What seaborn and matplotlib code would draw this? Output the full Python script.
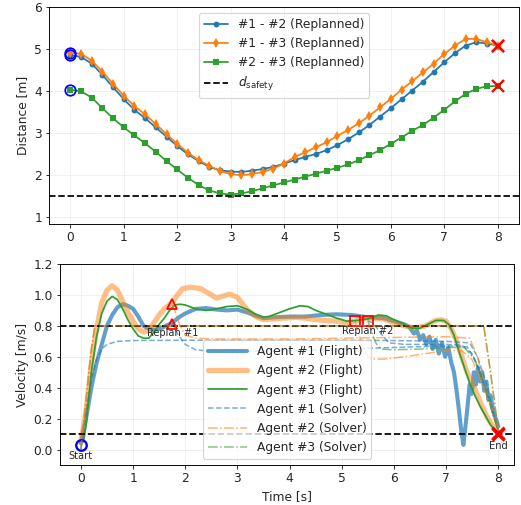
import matplotlib
matplotlib.use("Agg")
import matplotlib.pyplot as plt
import seaborn as sns
import numpy as np

# ---------------- data: top panel (pairwise distances) ----------------
t_dist = [0.0, 0.2, 0.4, 0.6, 0.8, 1.0, 1.2, 1.4, 1.6, 1.8, 2.0, 2.2, 2.4, 2.6, 2.8,
          3.0, 3.2, 3.4, 3.6, 3.8, 4.0, 4.2, 4.4, 4.6, 4.8, 5.0, 5.2, 5.4, 5.6, 5.8,
          6.0, 6.2, 6.4, 6.6, 6.8, 7.0, 7.2, 7.4, 7.6, 7.8, 8.0]
d12 = [4.86, 4.81, 4.65, 4.38, 4.09, 3.80, 3.55, 3.35, 3.13, 2.91, 2.69, 2.49, 2.33,
       2.19, 2.11, 2.08, 2.07, 2.10, 2.14, 2.19, 2.27, 2.35, 2.43, 2.50, 2.59, 2.71,
       2.85, 3.01, 3.19, 3.39, 3.59, 3.80, 4.01, 4.22, 4.45, 4.68, 4.90, 5.08, 5.16,
       5.13, 5.08]
d13 = [4.90, 4.89, 4.72, 4.46, 4.17, 3.88, 3.64, 3.44, 3.21, 2.97, 2.74, 2.53, 2.35,
       2.22, 2.09, 2.02, 1.99, 2.02, 2.07, 2.15, 2.27, 2.43, 2.54, 2.66, 2.78, 2.93,
       3.07, 3.23, 3.41, 3.61, 3.81, 4.03, 4.23, 4.44, 4.65, 4.88, 5.08, 5.24, 5.24,
       5.16, 5.08]
d23 = [4.03, 3.99, 3.84, 3.59, 3.35, 3.13, 2.94, 2.75, 2.55, 2.33, 2.13, 1.93, 1.76,
       1.63, 1.56, 1.53, 1.56, 1.61, 1.68, 1.75, 1.82, 1.89, 1.96, 2.03, 2.10, 2.17,
       2.25, 2.35, 2.47, 2.59, 2.74, 2.89, 3.05, 3.19, 3.36, 3.55, 3.75, 3.93, 4.05,
       4.11, 4.12]
pair_labels = ["#1 - #2 (Replanned)", "#1 - #3 (Replanned)", "#2 - #3 (Replanned)"]
d_safety = 1.5

# ---------------- data: bottom panel (velocities) ----------------
t_f1 = [0.0, 0.1, 0.2, 0.3, 0.4, 0.5, 0.6, 0.7, 0.8, 0.9, 1.0, 1.1, 1.2, 1.3, 1.4,
        1.5, 1.6, 1.75, 1.9, 2.0, 2.2, 2.4, 2.6, 2.8, 3.0, 3.2, 3.4, 3.5, 3.7, 4.0,
        4.3, 4.6, 4.9, 5.2, 5.5, 5.8, 6.0, 6.2, 6.3, 6.38, 6.44, 6.5, 6.56, 6.62,
        6.68, 6.74, 6.8, 6.86, 6.92, 6.98, 7.04, 7.1, 7.15, 7.2, 7.25, 7.29, 7.33,
        7.37, 7.41, 7.45, 7.49, 7.53, 7.57, 7.61, 7.65, 7.69, 7.73, 7.77, 7.81, 7.85,
        7.9, 7.95, 8.0]
v_f1 = [0.04, 0.20, 0.40, 0.56, 0.68, 0.80, 0.87, 0.92, 0.94, 0.93, 0.91, 0.86, 0.80,
        0.78, 0.775, 0.78, 0.795, 0.82, 0.86, 0.88, 0.91, 0.915, 0.905, 0.90, 0.905,
        0.885, 0.86, 0.85, 0.855, 0.86, 0.86, 0.87, 0.875, 0.87, 0.855, 0.85, 0.83,
        0.81, 0.79, 0.75, 0.77, 0.71, 0.74, 0.68, 0.73, 0.65, 0.71, 0.62, 0.69, 0.60,
        0.66, 0.56, 0.50, 0.38, 0.24, 0.12, 0.03, 0.15, 0.28, 0.42, 0.36, 0.50, 0.42,
        0.53, 0.44, 0.50, 0.38, 0.44, 0.32, 0.35, 0.25, 0.20, 0.15]
t_f2 = [0.0, 0.1, 0.2, 0.3, 0.4, 0.5, 0.6, 0.7, 0.8, 0.9, 1.0, 1.1, 1.2, 1.3, 1.4,
        1.5, 1.6, 1.75, 1.85, 1.95, 2.1, 2.3, 2.5, 2.6, 2.7, 2.85, 3.0, 3.1, 3.2, 3.35,
        3.5, 3.7, 3.9, 4.1, 4.3, 4.5, 4.7, 4.9, 5.1, 5.25, 5.4, 5.6, 5.8, 6.0, 6.2,
        6.4, 6.6, 6.8, 6.9, 7.0, 7.1, 7.2, 7.3, 7.4, 7.5, 7.6, 7.7, 7.8, 7.9, 8.0]
v_f2 = [0.05, 0.25, 0.55, 0.78, 0.95, 1.03, 1.06, 1.03, 0.96, 0.89, 0.83, 0.78, 0.76,
        0.77, 0.82, 0.87, 0.91, 0.95, 1.00, 1.04, 1.05, 1.04, 1.00, 0.98, 0.99, 1.005,
        0.985, 0.94, 0.90, 0.86, 0.84, 0.845, 0.85, 0.855, 0.85, 0.84, 0.835, 0.83,
        0.82, 0.83, 0.845, 0.85, 0.845, 0.82, 0.80, 0.785, 0.80, 0.835, 0.84, 0.83,
        0.78, 0.70, 0.60, 0.50, 0.43, 0.35, 0.27, 0.20, 0.15, 0.11]
t_f3 = [0.05, 0.1, 0.2, 0.3, 0.4, 0.5, 0.6, 0.7, 0.8, 0.9, 1.0, 1.1, 1.2, 1.3, 1.4,
        1.5, 1.6, 1.7, 1.8, 1.9, 2.0, 2.2, 2.4, 2.6, 2.8, 3.0, 3.2, 3.35, 3.5, 3.6,
        3.8, 4.0, 4.2, 4.35, 4.5, 4.7, 4.9, 5.1, 5.3, 5.5, 5.7, 5.85, 6.0, 6.2, 6.35,
        6.5, 6.65, 6.8, 6.95, 7.05, 7.15, 7.25, 7.35, 7.45, 7.55, 7.65, 7.75, 7.85,
        7.95, 8.0]
v_f3 = [0.05, 0.16, 0.50, 0.73, 0.88, 0.96, 0.99, 0.97, 0.91, 0.84, 0.78, 0.735, 0.72,
        0.72, 0.76, 0.81, 0.85, 0.90, 0.935, 0.94, 0.935, 0.91, 0.90, 0.91, 0.925,
        0.93, 0.905, 0.875, 0.855, 0.86, 0.885, 0.91, 0.93, 0.925, 0.90, 0.875, 0.85,
        0.83, 0.835, 0.845, 0.87, 0.865, 0.84, 0.81, 0.785, 0.785, 0.81, 0.835, 0.835,
        0.81, 0.74, 0.63, 0.53, 0.43, 0.35, 0.28, 0.22, 0.16, 0.12, 0.10]

# solver plans (initial plan, then re-plans)
t_s1a = [0.0, 0.1, 0.2, 0.3, 0.4, 0.5, 0.7, 1.0, 2.0, 3.0, 4.0, 5.0, 6.0, 7.0, 7.45, 7.6, 7.75, 7.9, 8.0]
v_s1a = [0.0, 0.22, 0.45, 0.58, 0.65, 0.68, 0.70, 0.705, 0.707, 0.707, 0.707, 0.707, 0.705, 0.70, 0.69, 0.60, 0.45, 0.25, 0.12]
t_s1b = [1.75, 1.85, 2.0, 2.2, 2.5, 3.0, 4.0, 5.0, 6.0, 7.0, 7.4, 7.6, 7.8, 8.0]
v_s1b = [0.82, 0.75, 0.68, 0.645, 0.635, 0.635, 0.64, 0.65, 0.66, 0.67, 0.665, 0.55, 0.35, 0.12]
t_s1c = [5.5, 5.6, 5.75, 5.9, 6.2, 6.6, 7.0, 7.3, 7.5, 7.7, 7.85, 8.0]
v_s1c = [0.83, 0.82, 0.75, 0.69, 0.68, 0.68, 0.68, 0.675, 0.62, 0.45, 0.30, 0.12]
t_s2a = [0.0, 0.1, 0.2, 0.27, 7.72, 7.85, 8.0]
v_s2a = [0.0, 0.32, 0.65, 0.80, 0.80, 0.50, 0.12]
t_s2b = [1.75, 1.8, 1.9, 2.0, 2.2, 2.6, 3.0, 4.0, 5.0, 6.0, 7.0, 7.45, 7.6, 7.8, 8.0]
v_s2b = [0.94, 0.90, 0.80, 0.74, 0.72, 0.715, 0.715, 0.715, 0.72, 0.725, 0.73, 0.72, 0.60, 0.35, 0.12]
t_s2c = [5.25, 5.3, 5.4, 5.5, 5.6, 5.8, 6.2, 6.6, 7.0, 7.3, 7.5, 7.7, 7.85, 8.0]
v_s2c = [0.83, 0.78, 0.66, 0.60, 0.585, 0.585, 0.60, 0.62, 0.64, 0.64, 0.58, 0.42, 0.28, 0.12]
t_s3a = [0.0, 0.1, 0.2, 0.27, 7.72, 7.85, 8.0]
v_s3a = [0.0, 0.32, 0.65, 0.80, 0.80, 0.50, 0.12]
t_s3b = [5.5, 5.55, 5.65, 5.75, 6.0, 6.5, 7.0, 7.35, 7.55, 7.75, 7.9, 8.0]
v_s3b = [0.83, 0.78, 0.69, 0.65, 0.645, 0.65, 0.66, 0.66, 0.58, 0.40, 0.22, 0.12]

flight_labels = ["Agent #1 (Flight)", "Agent #2 (Flight)", "Agent #3 (Flight)"]
solver_labels = ["Agent #1 (Solver)", "Agent #2 (Solver)", "Agent #3 (Solver)"]
v_limits = [0.8, 0.1]
replan1_t = [1.75, 1.75]
replan1_v = [0.94, 0.81]
replan2_t = [5.25, 5.5]
replan2_v = [0.83, 0.83]

# ---------------- figure ----------------
sns.set_style("ticks")
plt.rcParams["font.family"] = ["DejaVu Sans"]
FS = 10.5
C = sns.color_palette("tab10")
DPI = 84
fig = plt.figure(figsize=(521 / DPI, 505 / DPI), dpi=DPI)
ax1 = fig.add_axes([49/521, 1 - 224/505, 470/521, 217/505])
ax2 = fig.add_axes([60/521, 1 - 465/505, 454/521, 201/505])

# top panel
sns.lineplot(x=t_dist, y=d12, ax=ax1, color=C[0], marker="o", markersize=5,
             markeredgewidth=0, lw=1.5, label=pair_labels[0])
sns.lineplot(x=t_dist, y=d13, ax=ax1, color=C[1], marker="d", markersize=6.5,
             markeredgewidth=0, lw=1.5, label=pair_labels[1])
sns.lineplot(x=t_dist, y=d23, ax=ax1, color=C[2], marker="s", markersize=5,
             markeredgewidth=0, lw=1.5, label=pair_labels[2])
ax1.axhline(d_safety, color="black", ls="--", lw=1.5, label=r"$d_{\mathrm{safety}}$")
starts = [d12[0], d13[0], d23[0]]
ends = [d12[-1], d13[-1], d23[-1]]
ax1.plot([t_dist[0]] * 3, starts, "o", mfc="none", mec="blue", ms=9, mew=1.5)
ax1.plot([t_dist[-1]] * 3, ends, "x", color="red", ms=10, mew=2)
ax1.set_xlim(-0.4, 8.4)
ax1.set_ylim(0.83, 6.0)
ax1.set_ylabel("Distance [m]", fontsize=FS)
ax1.legend(loc="upper center", fontsize=FS)

# bottom panel
sns.lineplot(x=t_f1, y=v_f1, ax=ax2, color=C[0], lw=3.5, alpha=0.7, label=flight_labels[0], sort=False)
sns.lineplot(x=t_f2, y=v_f2, ax=ax2, color=C[1], lw=4.5, alpha=0.5, label=flight_labels[1], sort=False)
sns.lineplot(x=t_f3, y=v_f3, ax=ax2, color=C[2], lw=1.5, label=flight_labels[2], sort=False)
sns.lineplot(x=t_s1a, y=v_s1a, ax=ax2, color=C[0], lw=1.3, ls="--", alpha=0.6, label=solver_labels[0])
sns.lineplot(x=t_s1b, y=v_s1b, ax=ax2, color=C[0], lw=1.3, ls="--", alpha=0.6, label="_nolegend_")
sns.lineplot(x=t_s1c, y=v_s1c, ax=ax2, color=C[0], lw=1.3, ls="--", alpha=0.6, label="_nolegend_")
sns.lineplot(x=t_s2a, y=v_s2a, ax=ax2, color=C[1], lw=1.3, ls="-.", alpha=0.6, label=solver_labels[1], zorder=2.2)
sns.lineplot(x=t_s2b, y=v_s2b, ax=ax2, color=C[1], lw=1.3, ls="-.", alpha=0.6, label="_nolegend_")
sns.lineplot(x=t_s2c, y=v_s2c, ax=ax2, color=C[1], lw=1.3, ls="-.", alpha=0.6, label="_nolegend_")
sns.lineplot(x=t_s3a, y=v_s3a, ax=ax2, color=C[2], lw=1.3, ls="-.", alpha=0.6, label=solver_labels[2], zorder=1.8)
sns.lineplot(x=t_s3b, y=v_s3b, ax=ax2, color=C[2], lw=1.3, ls="-.", alpha=0.6, label="_nolegend_")
for v in v_limits:
    ax2.axhline(v, color="black", ls="--", lw=1.5)
ax2.plot([0.0], [0.03], "o", mfc="none", mec="blue", ms=9, mew=2)
ax2.text(0.0, -0.04, "Start", ha="center", va="center", fontsize=8.5)
ax2.plot([8.0, 8.0, 8.0], [0.1, 0.11, 0.1], "x", color="red", ms=10, mew=2.5)
ax2.text(8.0, 0.025, "End", ha="center", va="center", fontsize=8.5)
ax2.plot(replan1_t, replan1_v, "^", mfc="none", mec="red", ms=9, mew=1.5)
ax2.text(1.77, 0.755, "Replan #1", ha="center", va="center", fontsize=8.5)
ax2.plot(replan2_t, replan2_v, "s", mfc="none", mec="red", ms=9, mew=1.5)
ax2.text(5.5, 0.765, "Replan #2", ha="center", va="center", fontsize=8.5)
ax2.set_xlim(-0.4, 8.3)
ax2.set_ylim(-0.1, 1.2)
ax2.set_xlabel("Time [s]", fontsize=FS)
ax2.set_ylabel("Velocity [m/s]", fontsize=FS)
ax2.legend(loc="lower center", fontsize=FS, handlelength=3.2)

for ax in (ax1, ax2):
    ax.grid(True, alpha=0.3)
    ax.tick_params(labelsize=FS, length=3, pad=3)
    for s in ax.spines.values():
        s.set_visible(True)
        s.set_color("black")
        s.set_linewidth(0.8)

fig.savefig("out.png", dpi=DPI)
